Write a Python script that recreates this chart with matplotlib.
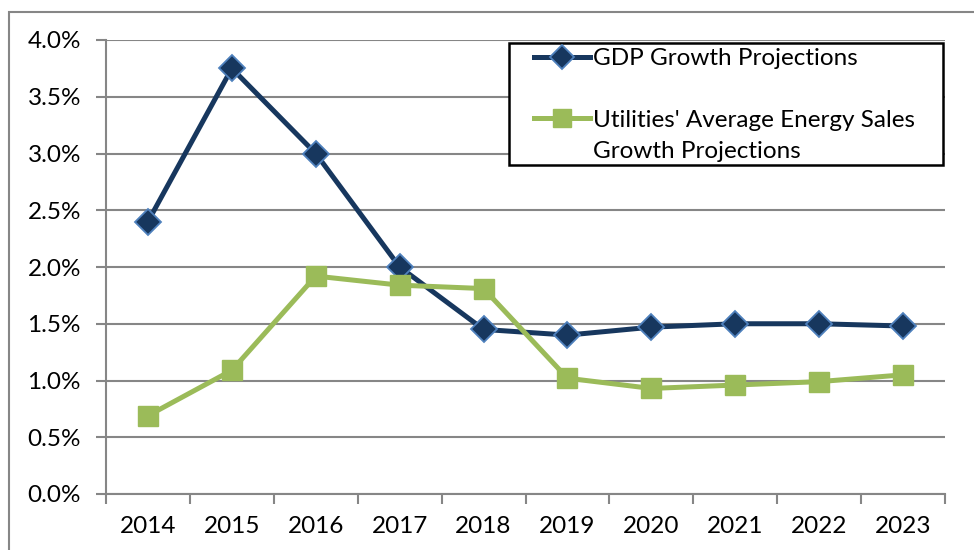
"""GDP vs utilities energy sales growth projections"""

import matplotlib
matplotlib.use('Agg')
import numpy
import matplotlib.pyplot as plt
from matplotlib.patches import Rectangle

years = ['2014', '2015', '2016', '2017', '2018', '2019', '2020', '2021', '2022', '2023']
gdp = [2.40, 3.75, 3.00, 2.00, 1.45, 1.40, 1.47, 1.50, 1.50, 1.48]       # GDP growth (%)
sales = [0.69, 1.09, 1.92, 1.84, 1.81, 1.02, 0.93, 0.96, 0.99, 1.05]     # energy sales growth (%)
yticks = [0.0, 0.5, 1.0, 1.5, 2.0, 2.5, 3.0, 3.5, 4.0]

plt.rcParams['font.family'] = ['Lato', 'DejaVu Sans']
W, H = 974, 550
fs = 17.5                     # font size (pt)
fpx = fs * 100.0 / 72.0       # font size (px)
fig = plt.figure(figsize=(W / 100.0, H / 100.0), dpi=100)

# outer chart border (only left and top visible)
fig.patches.append(Rectangle((9.0 / W, -0.1), 1.2, (H - 12.0) / H + 0.1, transform=fig.transFigure,
                             fill=False, edgecolor='#868686', linewidth=1.5))

ax = fig.add_axes([106.0 / W, 1 - 494.0 / H, (945.0 - 106.0) / W, (494.0 - 40.0) / H])
x = numpy.arange(len(years))

ax.plot(x, gdp, color='#17375E', linewidth=3.6, marker='D', markersize=13,
        markerfacecolor='#17375E', markeredgecolor='#4F81BD', markeredgewidth=1.3,
        label='GDP Growth Projections', zorder=3)
ax.plot(x, sales, color='#9BBB59', linewidth=3.6, marker='s', markersize=14,
        markerfacecolor='#9BBB59', markeredgecolor='#9BBB59',
        label="Utilities' Average Energy Sales", zorder=3)

ax.set_xlim(-0.5, len(years) - 0.5)
ax.set_ylim(0, 4.0)
ax.set_yticks(yticks)
ax.set_yticklabels(['%.1f%%' % v for v in yticks])
ax.set_xticks(numpy.arange(-0.5, len(years), 1.0))
ax.set_xticklabels([])
ax.set_xticks(x, minor=True)
ax.set_xticklabels(years, minor=True)
ax.tick_params(axis='x', which='major', length=7, width=1.5, color='#868686', direction='out')
ax.tick_params(axis='x', which='minor', length=0, pad=16, labelsize=fs)
ax.tick_params(axis='y', length=7, width=1.5, color='#868686', direction='out', pad=11, labelsize=fs)

ax.grid(axis='y', color='#868686', linewidth=1.5)
ax.set_axisbelow(True)
for s in ['top', 'right']:
    ax.spines[s].set_visible(False)
for s in ['left', 'bottom']:
    ax.spines[s].set_color('#868686')
    ax.spines[s].set_linewidth(1.5)

# legend frame
ax.add_patch(Rectangle((509.0 / W, 1 - 165.0 / H), 434.0 / W, 122.0 / H, transform=fig.transFigure,
                       facecolor='white', edgecolor='black', linewidth=1.8, zorder=5, clip_on=False))

leg = ax.legend(loc='upper left', bbox_to_anchor=(534.0 / W, 1 - 48.0 / H),
                bbox_transform=fig.transFigure, frameon=False, fontsize=fs,
                handlelength=56.0 / fpx, handletextpad=3.0 / fpx, labelspacing=1.67,
                borderpad=0, borderaxespad=0, markerscale=0.95)
leg.set_zorder(6)
fig.text(593.0 / W, 1 - 152.0 / H, 'Growth Projections', fontsize=fs, va='center', ha='left', zorder=7)

fig.savefig('out.png', dpi=100)
